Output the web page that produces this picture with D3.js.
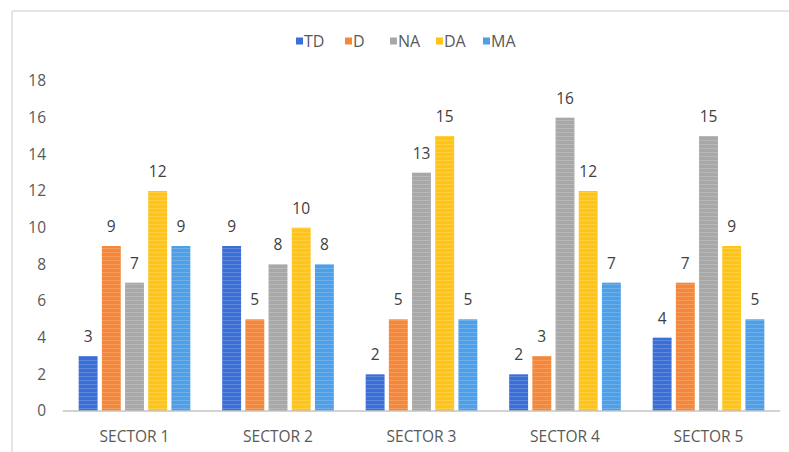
<!DOCTYPE html>
<html>
<head>
<meta charset="utf-8">
<script src="https://cdn.jsdelivr.net/npm/d3@7"></script>
<style>
  body { margin: 0; background: #fff; }
  svg { display: block; font-family: "Open Sans", "Noto Sans", sans-serif; }
</style>
</head>
<body>
<svg width="789" height="452"></svg>
<script>
// chart size
const width = 789
const height = 452

// data
const sectors = ["SECTOR 1", "SECTOR 2", "SECTOR 3", "SECTOR 4", "SECTOR 5"];
const series = ["TD", "D", "NA", "DA", "MA"];
const colors = ["#3b6fd8", "#f4873a", "#a8a8a8", "#ffc416", "#4d9fe8"];
const TD = [3, 9, 2, 2, 4];
const D = [9, 5, 5, 3, 7];
const NA = [7, 8, 13, 16, 15];
const DA = [12, 10, 15, 12, 9];
const MA = [9, 8, 5, 7, 5];
const yTicks = [0, 2, 4, 6, 8, 10, 12, 14, 16, 18];

const values = [TD, D, NA, DA, MA];

var svg = d3.select("svg");

// light frame round the chart (only left and top show)
svg.append("line").attr("x1", 12).attr("x2", 12).attr("y1", 11).attr("y2", height)
  .style("stroke", "#dcdcdc").style("stroke-width", 1.5);
svg.append("line").attr("x1", 12).attr("x2", width).attr("y1", 11).attr("y2", 11)
  .style("stroke", "#dcdcdc").style("stroke-width", 1.5);

// stripe texture that the bars have in the picture
var defs = svg.append("defs");
var pat = defs.append("pattern").attr("id", "stripes")
  .attr("width", 6).attr("height", 4).attr("patternUnits", "userSpaceOnUse");
pat.append("rect").attr("x", 0).attr("y", 0).attr("width", 6).attr("height", 1)
  .style("fill", "#fff").style("opacity", 0.18);

var x0 = d3.scaleBand()
  .domain(sectors)
  .range([62.75, 780.25])
  .paddingInner(0.222)
  .paddingOuter(0.111);

var x1 = d3.scaleBand()
  .domain(series)
  .range([0, x0.bandwidth()])
  .paddingInner(0.185);

var y = d3.scaleLinear()
  .domain([0, 18])
  .range([411, 81]);

// y tick labels (no gridlines in the original)
svg.append("g").selectAll("text")
  .data(yTicks)
  .enter()
  .append("text")
  .attr("x", 46)
  .attr("y", d => y(d))
  .attr("dy", "0.35em")
  .attr("text-anchor", "end")
  .style("font-size", "15.5px")
  .style("fill", "#595959")
  .text(d => d);

// bars
var groups = svg.append("g").selectAll("g")
  .data(sectors)
  .enter()
  .append("g")
  .attr("transform", d => "translate(" + x0(d) + ",0)");

var cells = groups.selectAll("g")
  .data((s, i) => series.map((k, j) => ({ key: k, idx: j, v: values[j][i] })))
  .enter()
  .append("g");

cells.append("rect")
  .attr("x", d => x1(d.key))
  .attr("y", d => y(d.v))
  .attr("width", x1.bandwidth())
  .attr("height", d => y(0) - y(d.v))
  .style("fill", d => colors[d.idx]);

cells.append("rect")
  .attr("x", d => x1(d.key))
  .attr("y", d => y(d.v))
  .attr("width", x1.bandwidth())
  .attr("height", d => y(0) - y(d.v))
  .style("fill", "url(#stripes)");

cells.append("text")
  .attr("x", d => x1(d.key) + x1.bandwidth() / 2)
  .attr("y", d => y(d.v) - 14)
  .attr("text-anchor", "middle")
  .style("font-size", "15.5px")
  .style("fill", "#404040")
  .text(d => d.v);

// baseline
svg.append("line")
  .attr("x1", x0.range()[0]).attr("x2", x0.range()[1])
  .attr("y1", y(0)).attr("y2", y(0))
  .style("stroke", "#c4c4c4").style("stroke-width", 1.5);

// category labels
svg.append("g").selectAll("text")
  .data(sectors)
  .enter()
  .append("text")
  .attr("x", d => x0(d) + x0.bandwidth() / 2)
  .attr("y", 437)
  .attr("dy", "0.35em")
  .attr("text-anchor", "middle")
  .style("font-size", "15.5px")
  .style("fill", "#595959")
  .text(d => d);

// legend
var legendX = [296, 345, 390, 436, 483];
var legend = svg.append("g").selectAll("g")
  .data(series)
  .enter()
  .append("g")
  .attr("transform", (d, i) => "translate(" + legendX[i] + ",41)");

legend.append("rect")
  .attr("x", 0).attr("y", -3.5)
  .attr("width", 7).attr("height", 7)
  .style("fill", (d, i) => colors[i]);

legend.append("text")
  .attr("x", 8)
  .attr("dy", "0.35em")
  .style("font-size", "16px")
  .style("fill", "#595959")
  .text(d => d);
</script>
</body>
</html>
